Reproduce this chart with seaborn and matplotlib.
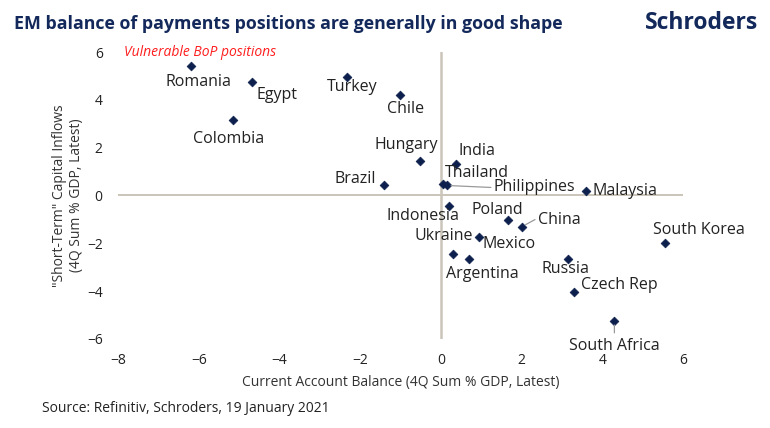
import matplotlib
matplotlib.use("Agg")
import matplotlib.pyplot as plt
import seaborn as sns
import pandas as pd

# podaci ocitani sa slike
countries = ["Romania", "Egypt", "Turkey", "Chile", "Colombia", "Hungary", "Brazil",
             "India", "Thailand", "Philippines", "Malaysia", "Indonesia", "Poland",
             "China", "Mexico", "Ukraine", "Argentina", "Russia", "Czech Rep",
             "South Korea", "South Africa"]
current_account = [-6.20, -4.67, -2.33, -1.02, -5.15, -0.52, -1.40,
                   0.37, 0.05, 0.15, 3.59, 0.19, 1.66,
                   2.01, 0.95, 0.31, 0.70, 3.16, 3.30,
                   5.55, 4.30]
capital_inflows = [5.42, 4.74, 4.97, 4.22, 3.16, 1.46, 0.44,
                   1.30, 0.50, 0.42, 0.19, -0.44, -1.01,
                   -1.30, -1.75, -2.43, -2.64, -2.67, -4.02,
                   -1.97, -5.24]
x_ticks = [-8, -6, -4, -2, 0, 2, 4, 6]
y_ticks = [-6, -4, -2, 0, 2, 4, 6]

df = pd.DataFrame({"country": countries, "ca": current_account, "flows": capital_inflows})

# pomaci oznaka u pikselima (dx, dy prema dolje), poravnanje
label_pos = {
    "Romania": (8, 16, "center"), "Egypt": (25, 13, "center"), "Turkey": (5, 10, "center"),
    "Chile": (6, 14, "center"), "Colombia": (-4, 19, "center"), "Hungary": (-14, -16, "center"),
    "Brazil": (-8, -6, "right"), "India": (21, -13, "center"), "Thailand": (34, -11, "center"),
    "Philippines": (47, 2, "left"), "Malaysia": (7, 0, "left"), "Indonesia": (-26, 10, "center"),
    "Poland": (-11, -10, "center"), "China": (16, -7, "left"), "Mexico": (30, 7, "center"),
    "Ukraine": (-10, -18, "center"), "Argentina": (13, 15, "center"), "Russia": (-3, 10, "center"),
    "Czech Rep": (7, -7, "left"), "South Korea": (34, -13, "center"), "South Africa": (0, 25, "center"),
}
leaders = {"Philippines": (44, 2), "China": (13, -7), "South Africa": (0, 12)}

navy = "#13295b"
plt.rcParams["font.family"] = ["Open Sans", "DejaVu Sans"]
fig = plt.figure(figsize=(7.7, 4.28), dpi=100)
ax = fig.add_axes([118 / 770, 1 - 339 / 428, 565 / 770, 287 / 428])

ax.axhline(0, color="#cbc5b9", lw=1.4, zorder=1)
ax.axvline(0, color="#cbc5b9", lw=1.8, zorder=1)
sns.scatterplot(data=df, x="ca", y="flows", marker="D", s=20, color="#0c1f4d",
                edgecolor="#0c1f4d", linewidth=0.5, ax=ax, zorder=3)

px = 0.72  # pt po pikselu
for c, x, y in zip(countries, current_account, capital_inflows):
    dx, dy, ha = label_pos[c]
    ax.annotate(c, (x, y), xytext=(dx * px, -dy * px), textcoords="offset points",
                ha=ha, va="center", fontsize=11.5, color="#222222")
    if c in leaders:
        lx, ly = leaders[c]
        ax.annotate("", (x, y), xytext=(lx * px, -ly * px), textcoords="offset points",
                    arrowprops=dict(arrowstyle="-", color="#999999", lw=0.9,
                                    shrinkA=0, shrinkB=3))

ax.set_xlim(-8, 6)
ax.set_ylim(-6, 6)
ax.set_xticks(x_ticks)
ax.set_yticks(y_ticks)
ax.tick_params(length=0, labelsize=10, colors="#222222")
ax.tick_params(axis="x", pad=10)
ax.tick_params(axis="y", pad=11)
for s in ax.spines.values():
    s.set_visible(False)
ax.set_xlabel("Current Account Balance (4Q Sum % GDP, Latest)", fontsize=10, color="#333333", labelpad=5)
ax.set_ylabel('"Short-Term" Capital Inflows\n(4Q Sum % GDP, Latest)', fontsize=10, color="#333333", labelpad=2)
ax.patch.set_alpha(0)

ax.text(-7.85, 6.0, "Vulnerable BoP positions", color="#ff1f1f", fontsize=10, style="italic",
        ha="left", va="center")

fig.text(14 / 770, 1 - 24 / 428, "EM balance of payments positions are generally in good shape",
         fontsize=12.8, fontweight="bold", color=navy, ha="left", va="center")
fig.text(758 / 770, 1 - 23 / 428, "Schroders", fontsize=16.5, fontweight="bold", color=navy,
         ha="right", va="center")
fig.text(42 / 770, 1 - 409 / 428, "Source: Refinitiv, Schroders, 19 January 2021",
         fontsize=10, color="#222222", ha="left", va="center")

fig.savefig("out.png", dpi=100)
